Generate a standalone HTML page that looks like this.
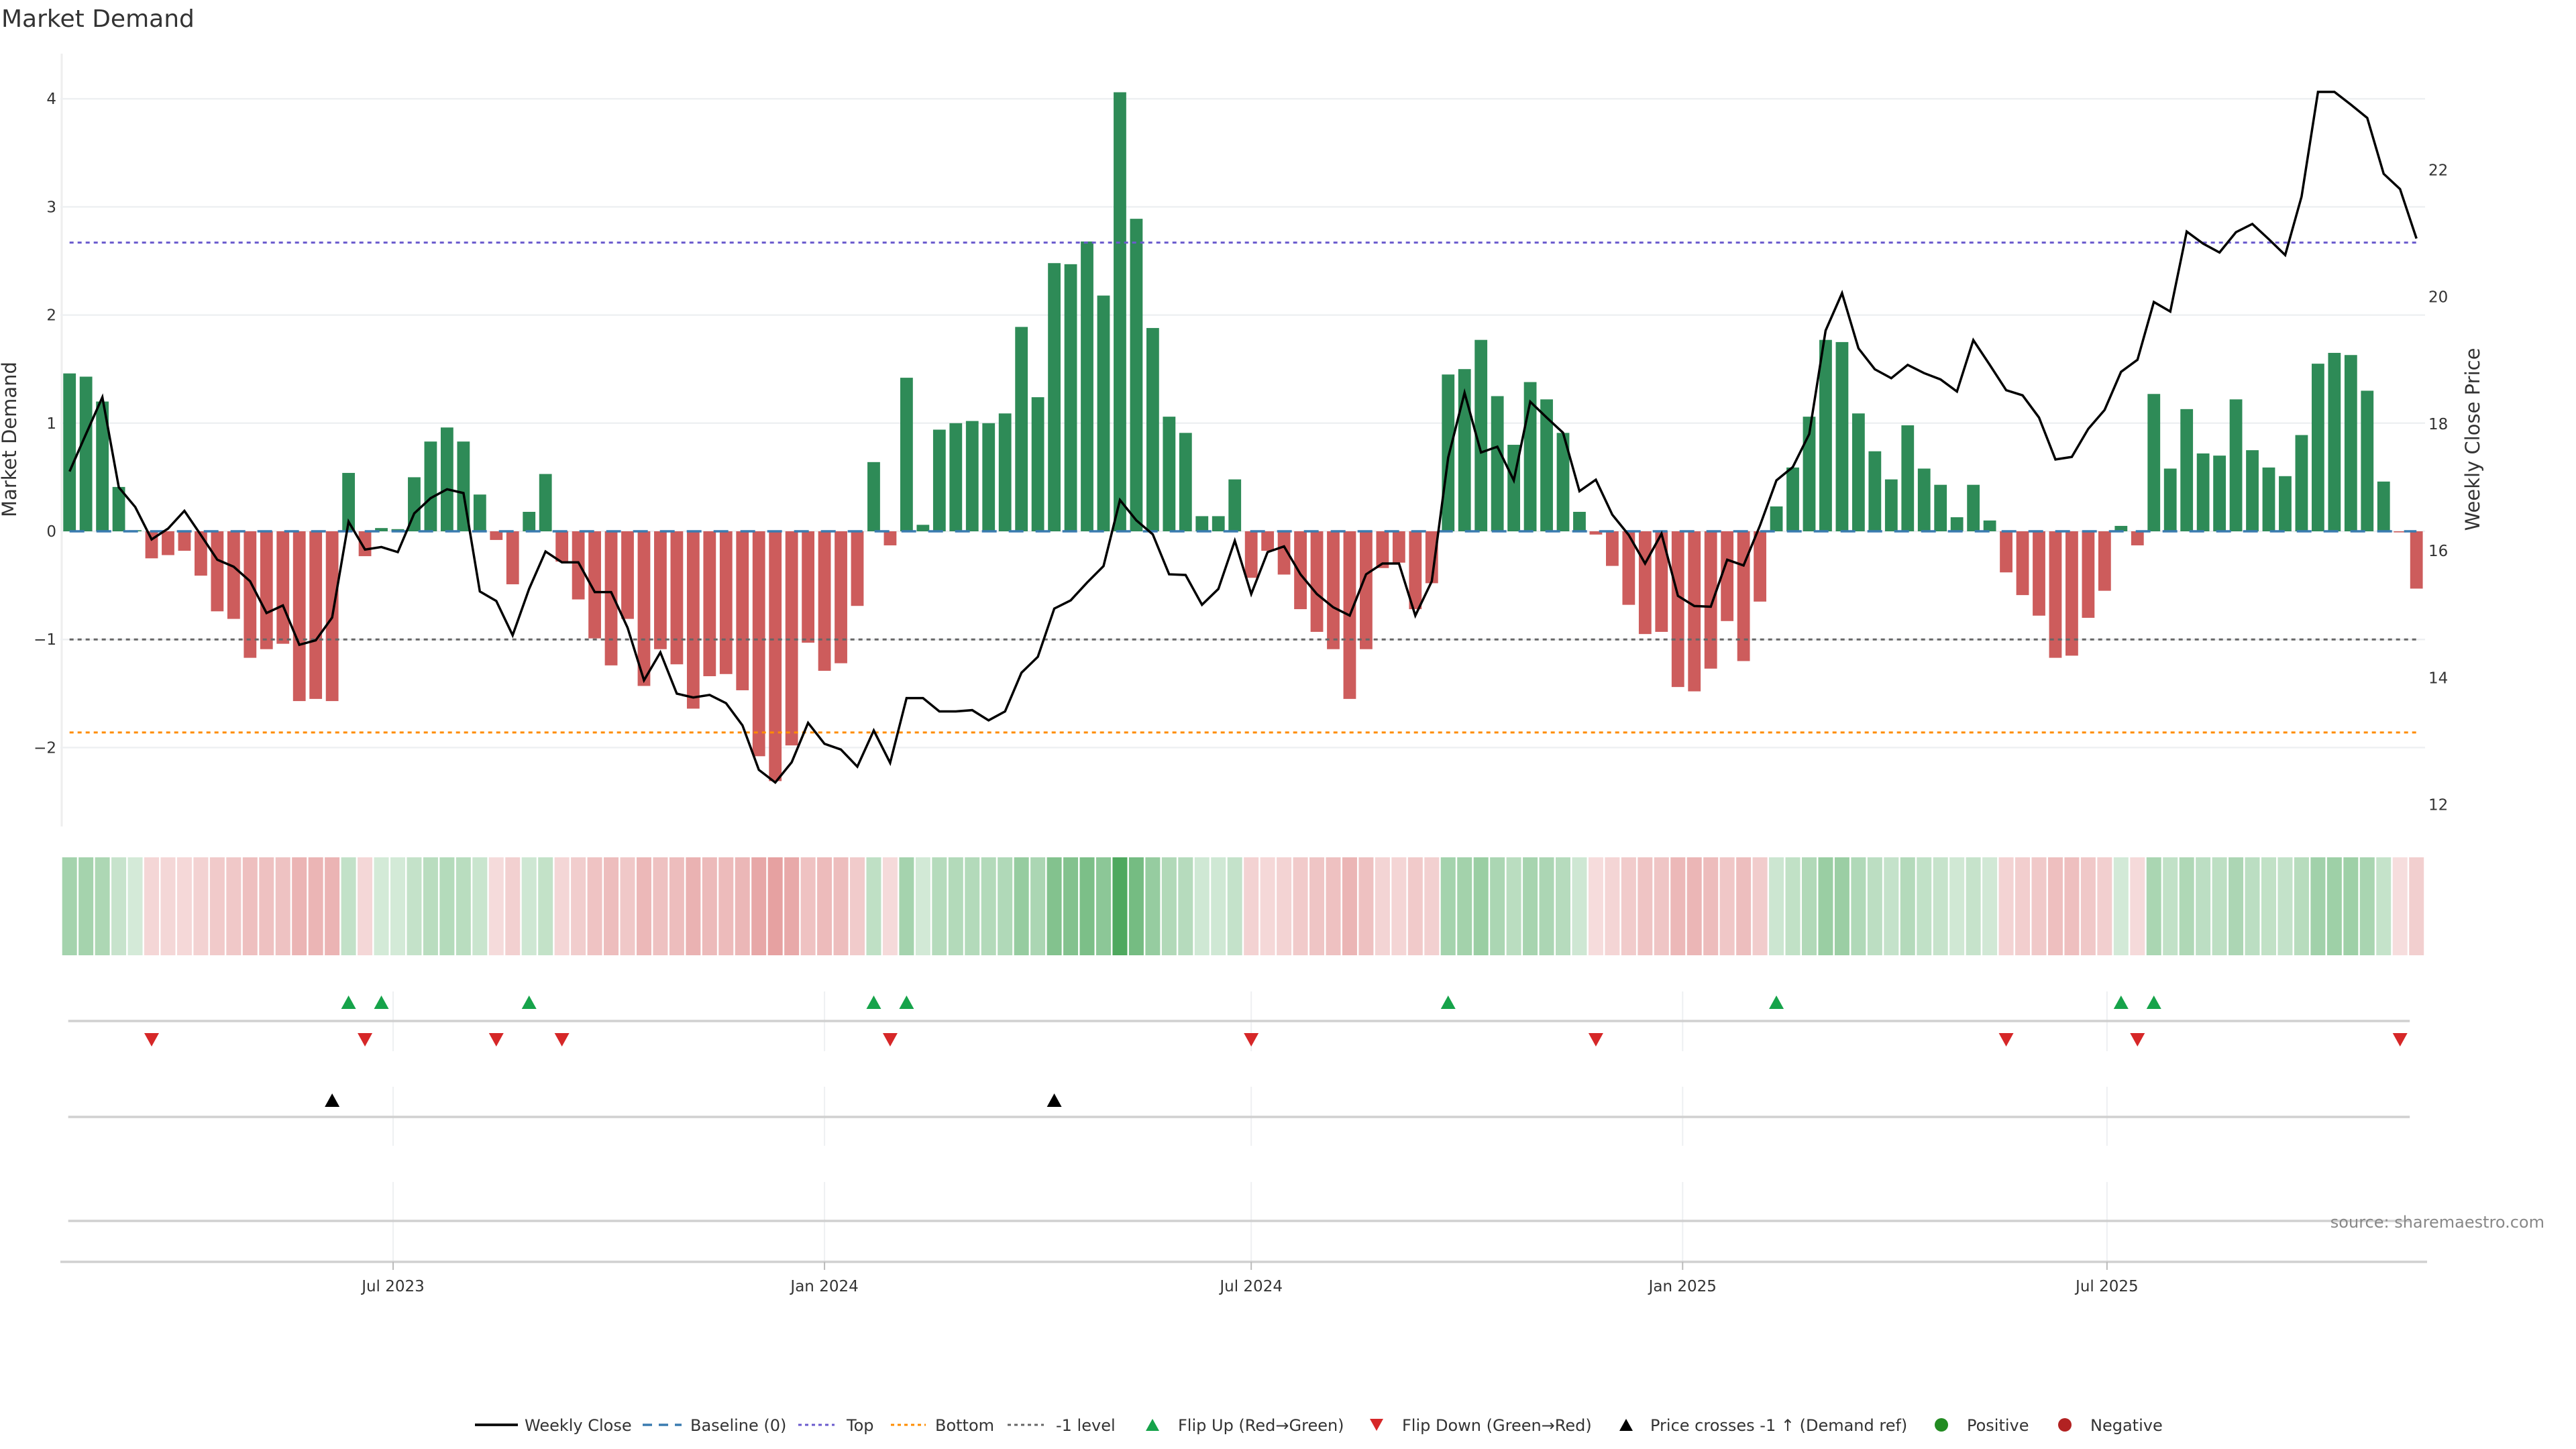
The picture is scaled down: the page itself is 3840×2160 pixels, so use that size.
<!DOCTYPE html>
<html><head><meta charset="utf-8"><title>Market Demand</title>
<style>
html,body{margin:0;padding:0;background:#fff;}
svg{display:block;font-family:"DejaVu Sans","Liberation Sans",sans-serif;}
</style></head>
<body>
<svg id="chart" width="3840" height="2160" viewBox="0 0 3840 2160" xmlns="http://www.w3.org/2000/svg">
  <text x="2" y="40" font-size="36" fill="#333">Market Demand</text>
  <text x="0" y="0" font-size="29" fill="#333" text-anchor="middle" transform="translate(24,655) rotate(-90)">Market Demand</text>
  <text x="0" y="0" font-size="29" fill="#333" text-anchor="middle" transform="translate(3696,655) rotate(-90)">Weekly Close Price</text>
  <g id="grid"></g>
  <g id="bars"></g>
  <g id="refs"></g>
  <g id="price"></g>
  <g id="heat"></g>
  <g id="markers"></g>
  <g id="xaxis"></g>
  <text x="3793" y="1830" font-size="24" fill="#888" text-anchor="end">source: sharemaestro.com</text>
  <g id="legend"></g>
</svg>
<script>
const demand = [
 1.46,1.43,1.20,0.41,0.01,-0.25,-0.22,-0.18,-0.41,-0.74,
 -0.81,-1.17,-1.09,-1.04,-1.57,-1.55,-1.57,0.54,-0.23,0.03,
 0.02,0.50,0.83,0.96,0.83,0.34,-0.08,-0.49,0.18,0.53,
 -0.28,-0.63,-0.99,-1.24,-0.81,-1.43,-1.09,-1.23,-1.64,-1.34,
 -1.32,-1.47,-2.08,-2.31,-1.98,-1.03,-1.29,-1.22,-0.69,0.64,
 -0.13,1.42,0.06,0.94,1.00,1.02,1.00,1.09,1.89,1.24,
 2.48,2.47,2.68,2.18,4.06,2.89,1.88,1.06,0.91,0.14,
 0.14,0.48,-0.43,-0.18,-0.40,-0.72,-0.93,-1.09,-1.55,-1.09,
 -0.34,-0.29,-0.72,-0.48,1.45,1.50,1.77,1.25,0.80,1.38,
 1.22,0.91,0.18,-0.03,-0.32,-0.68,-0.95,-0.93,-1.44,-1.48,
 -1.27,-0.83,-1.20,-0.65,0.23,0.59,1.06,1.77,1.75,1.09,
 0.74,0.48,0.98,0.58,0.43,0.13,0.43,0.10,-0.38,-0.59,
 -0.78,-1.17,-1.15,-0.80,-0.55,0.05,-0.13,1.27,0.58,1.13,
 0.72,0.70,1.22,0.75,0.59,0.51,0.89,1.55,1.65,1.63,
 1.30,0.46,-0.01,-0.53];
const closePrice = [
 17.25,17.84,18.42,17.0,16.69,16.18,16.35,16.63,16.25,15.86,
 15.75,15.52,15.02,15.14,14.52,14.59,14.95,16.46,16.02,16.06,
 15.98,16.59,16.83,16.97,16.91,15.36,15.21,14.67,15.4,15.99,
 15.82,15.82,15.35,15.35,14.79,13.96,14.40,13.75,13.69,13.73,
 13.6,13.25,12.55,12.35,12.67,13.29,12.96,12.87,12.6,13.17,
 12.66,13.68,13.68,13.47,13.47,13.49,13.33,13.47,14.08,14.33,
 15.09,15.22,15.5,15.76,16.8,16.48,16.26,15.63,15.62,15.15,
 15.4,16.16,15.32,15.98,16.07,15.63,15.32,15.11,14.98,15.63,
 15.8,15.8,14.98,15.52,17.47,18.49,17.55,17.64,17.11,18.35,
 18.1,17.86,16.94,17.12,16.57,16.25,15.8,16.27,15.29,15.13,
 15.12,15.86,15.77,16.4,17.11,17.32,17.84,19.47,20.06,19.19,
 18.86,18.72,18.93,18.8,18.7,18.51,19.32,18.93,18.53,18.45,
 18.1,17.44,17.48,17.92,18.22,18.82,19.01,19.92,19.77,21.03,
 20.84,20.7,21.02,21.15,20.91,20.66,21.58,23.23,23.23,23.03,
 22.82,21.94,21.7,20.92];
const priceCrossIdx = [16, 60];
const leftTicks = [-2,-1,0,1,2,3,4];
const rightTicks = [12,14,16,18,20,22];
const dateTicks = ["2023-07-01","2024-01-01","2024-07-01","2025-01-01","2025-07-01"];
const dateTickLabels = ["Jul 2023","Jan 2024","Jul 2024","Jan 2025","Jul 2025"];
const topLevel = 2.67;
const bottomLevel = -1.86;
const minusOneLevel = -1;
const startDate = "2023-02-13";

const NS = "http://www.w3.org/2000/svg";
function mk(tag, attrs, parent){ const e=document.createElementNS(NS,tag); for(const k in attrs) e.setAttribute(k,attrs[k]); parent.appendChild(e); return e; }
const DAY = 86400000;
const refDate = Date.UTC(2023,6,1);
function xDate(ms){ return 586 + (ms - refDate)/DAY*3.495; }
function parseD(s){ const p=s.split("-"); return Date.UTC(+p[0], +p[1]-1, +p[2]); }
const start = parseD(startDate);
function xIdx(i){ return xDate(start + i*7*DAY); }
function yD(v){ return 792 - v*161.2; }
function yP(p){ return 253.4 + (22-p)*94.62; }
const X0 = 90, X1 = 3615;
const xFirst = xIdx(0), xLast = xIdx(demand.length-1);

const grid = document.getElementById("grid");
const ax = mk("line",{x1:92,x2:92,y1:80,y2:1232,stroke:"#eeeeee","stroke-width":3},grid);


leftTicks.forEach(t=>{
  const l = mk("line",{x1:X0,x2:X1,y1:yD(t),y2:yD(t),stroke:"#eef0f2","stroke-width":2.5},grid);
  
  
  const tx = mk("text",{x:84,y:yD(t)+8,"font-size":23,fill:"#333","text-anchor":"end"},grid);
  tx.textContent = t<0 ? "\u2212"+Math.abs(t) : String(t);
  
  
});
rightTicks.forEach(t=>{
  const tx = mk("text",{x:3620,y:yP(t)+8,"font-size":23,fill:"#333"},grid);
  tx.textContent = String(t);
  
  
});

const bars = document.getElementById("bars");
const BW = 18.8;
demand.forEach((v,i)=>{
  const x = xIdx(i);
  const y0 = yD(0), y1 = yD(v);
  const r = mk("rect",{x:x-BW/2,y:Math.min(y0,y1),width:BW,height:Math.max(0.5,Math.abs(y1-y0)),fill: v>=0?"#2e8b57":"#cd5c5c"},bars);
  
  
});

const refs = document.getElementById("refs");
function hline(y,color,dash,name,w){
  const l = mk("line",{x1:xFirst,x2:xLast,y1:y,y2:y,stroke:color,"stroke-width":w||3,"stroke-dasharray":dash},refs);
  
  
}
hline(yD(0),"#3a7bb0","22 18","baseline-zero",3.5);
hline(yD(topLevel),"#6a5acd","6 6","top-level-line");
hline(yD(minusOneLevel),"#666666","6 6","minus-one-level-line");
hline(yD(bottomLevel),"#ff8c00","6 6","bottom-level-line");

const priceG = document.getElementById("price");
const pts = closePrice.map((p,i)=>xIdx(i).toFixed(1)+","+yP(p).toFixed(1)).join(" ");
const pl = mk("polyline",{points:pts,fill:"none",stroke:"#000","stroke-width":3.5,"stroke-linejoin":"miter"},priceG);



const heat = document.getElementById("heat");
const maxAbs = Math.max(...demand.map(Math.abs));
function mix(c, a){ return "rgb("+c.map(v=>Math.round(255-(255-v)*a)).join(",")+")"; }
demand.forEach((v,i)=>{
  const a = 0.2 + 0.62*Math.abs(v)/maxAbs;
  const col = v>=0 ? mix([40,150,60],a) : mix([205,70,70],a*0.92);
  const c = mk("rect",{x:xIdx(i)-11,y:1278,width:22,height:146,fill:col},heat);
  
  
});

const mg = document.getElementById("markers");
const rowSpans = [[1478,1567],[1620,1708],[1762,1881]];
dateTicks.forEach(d=>{
  const x = xDate(parseD(d));
  rowSpans.forEach(s=>{
    const l = mk("line",{x1:x,x2:x,y1:s[0],y2:s[1],stroke:"#eef0f2","stroke-width":2},mg);
    
    
  });
});
[1522,1665,1820].forEach(y=>{
  const l = mk("line",{x1:xFirst-2,x2:xLast-10,y1:y,y2:y,stroke:"#d0d0d0","stroke-width":3.5},mg);
  
  
});
function tri(x,y,up,color,name){
  const h=20, w=11;
  const p = up ? `${x-w},${y+h/2} ${x+w},${y+h/2} ${x},${y-h/2}` : `${x-w},${y-h/2} ${x+w},${y-h/2} ${x},${y+h/2}`;
  const t = mk("polygon",{points:p,fill:color},mg);
  
  
}
for(let i=1;i<demand.length;i++){
  if(demand[i-1]<0 && demand[i]>=0) tri(xIdx(i),1494,true,"#16a34a","flip-up-marker");
  if(demand[i-1]>=0 && demand[i]<0) tri(xIdx(i),1550,false,"#d62728","flip-down-marker");
}
priceCrossIdx.forEach(i=>tri(xIdx(i),1640,true,"#000","price-cross-marker"));

const xa = document.getElementById("xaxis");
const axl = mk("line",{x1:X0,x2:3618,y1:1881,y2:1881,stroke:"#d0d0d0","stroke-width":3.5},xa);


dateTicks.forEach((d,k)=>{
  const x = xDate(parseD(d));
  const tk = mk("line",{x1:x,x2:x,y1:1881,y2:1893,stroke:"#bbb","stroke-width":2},xa);
  
  
  const tx = mk("text",{x:x,y:1925,"font-size":23,fill:"#333","text-anchor":"middle"},xa);
  tx.textContent = dateTickLabels[k];
  
  
});

const lg = document.getElementById("legend");
const LY = 2124;
function ltext(x,s){ const t=mk("text",{x:x,y:LY+9,"font-size":24,fill:"#333"},lg); t.textContent=s;   }
function lline(x1,x2,color,dash,w,name){ const l=mk("line",{x1:x1,x2:x2,y1:LY,y2:LY,stroke:color,"stroke-width":w,"stroke-dasharray":dash},lg);   }
lline(708,772,"#111","none",4,"legend-weekly-close"); ltext(782,"Weekly Close");
lline(958,1016,"#3a7bb0","14 10",3.5,"legend-baseline"); ltext(1029,"Baseline (0)");
lline(1190,1244,"#6a5acd","5 5",3,"legend-top"); ltext(1262,"Top");
lline(1328,1380,"#ff8c00","5 5",3,"legend-bottom"); ltext(1394,"Bottom");
lline(1502,1556,"#666","5 5",3,"legend-minus-one"); ltext(1574,"-1 level");
function ltri(x,up,color,name){ const h=18,w=10; const p= up?`${x-w},${LY+h/2} ${x+w},${LY+h/2} ${x},${LY-h/2}`:`${x-w},${LY-h/2} ${x+w},${LY-h/2} ${x},${LY+h/2}`; const t=mk("polygon",{points:p,fill:color},lg);   }
ltri(1718,true,"#16a34a","legend-flip-up"); ltext(1756,"Flip Up (Red\u2192Green)");
ltri(2052,false,"#d62728","legend-flip-down"); ltext(2090,"Flip Down (Green\u2192Red)");
ltri(2424,true,"#000","legend-price-cross"); ltext(2460,"Price crosses -1 \u2191 (Demand ref)");
const c1=mk("circle",{cx:2894,cy:LY,r:10,fill:"#228b22"},lg);


ltext(2932,"Positive");
const c2=mk("circle",{cx:3078,cy:LY,r:10,fill:"#b22222"},lg);


ltext(3116,"Negative");
</script>
</body></html>
